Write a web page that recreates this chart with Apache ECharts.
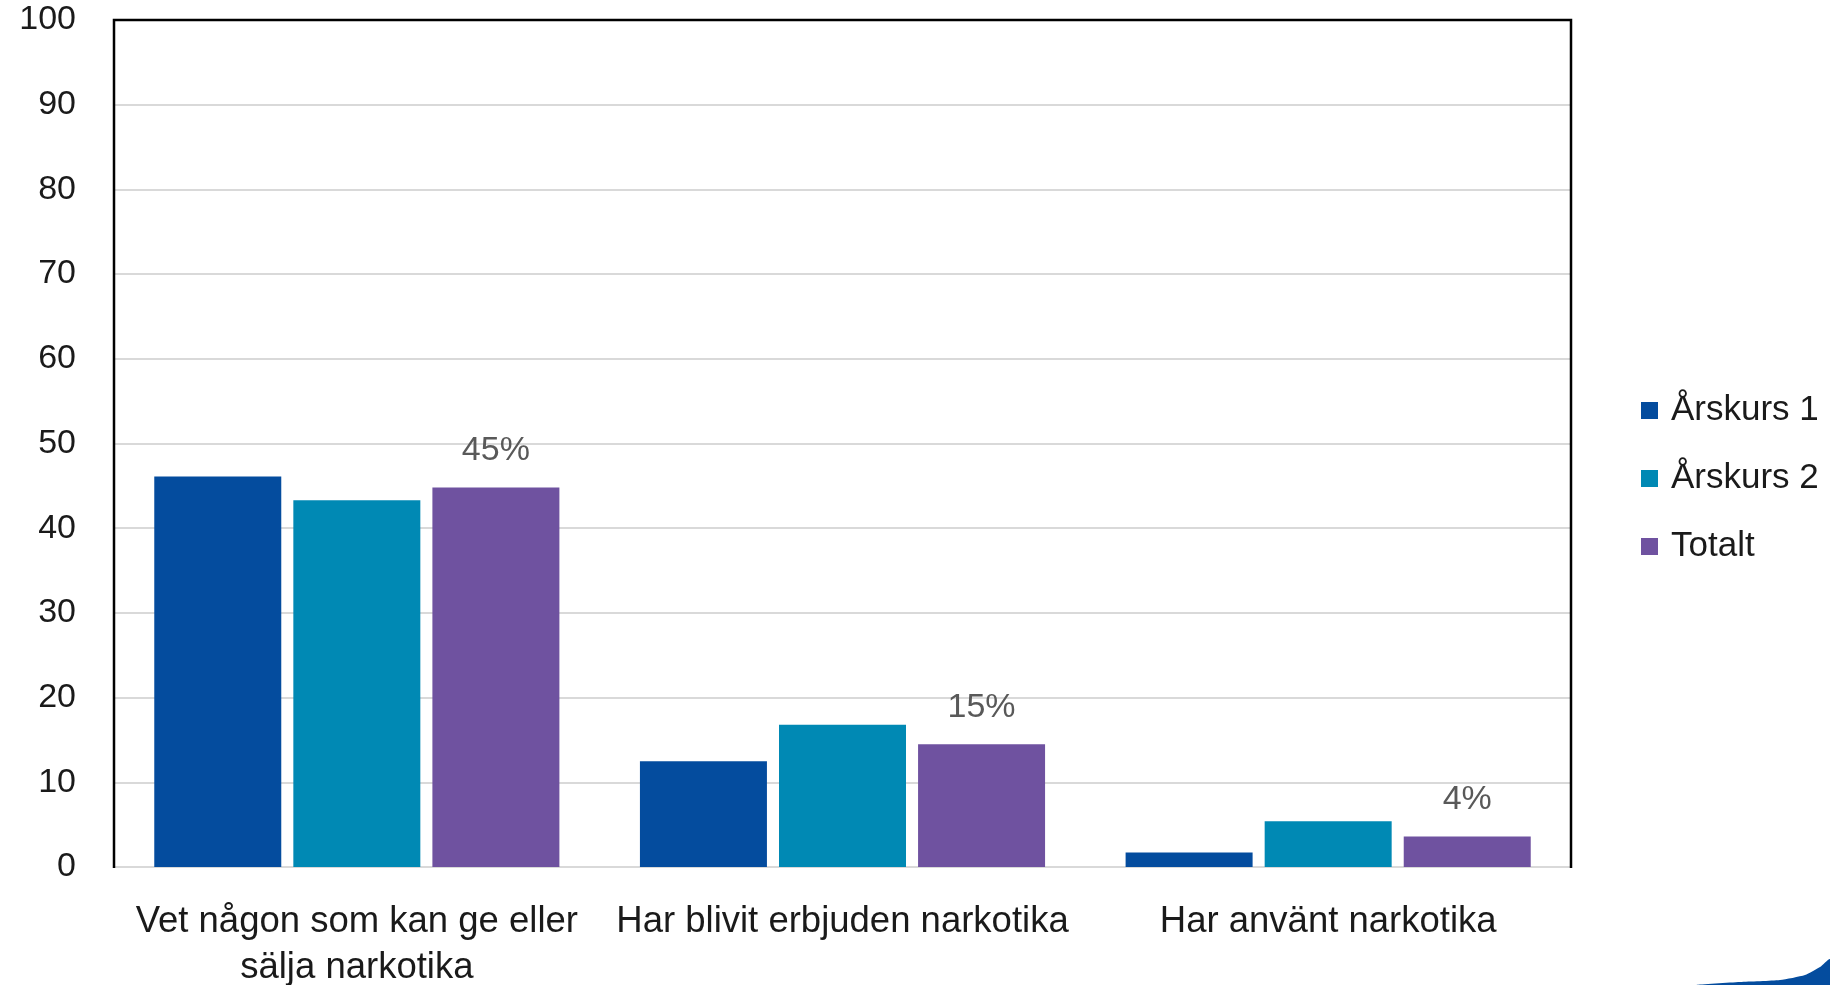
<!DOCTYPE html>
<html>
<head>
<meta charset="utf-8">
<script src="https://cdn.jsdelivr.net/npm/echarts@6/dist/echarts.min.js"></script>
<style>
html,body{margin:0;padding:0;background:#fff;}
#chart{width:1830px;height:985px;}
</style>
</head>
<body>
<div id="chart"></div>
<script>
const categories = ['Vet någon som kan ge eller\nsälja narkotika', 'Har blivit erbjuden narkotika', 'Har använt narkotika'];
const seriesNames = ['Årskurs 1', 'Årskurs 2', 'Totalt'];
const arskurs1 = [46.1, 12.5, 1.7];
const arskurs2 = [43.3, 16.8, 5.4];
const totalt = [44.8, 14.5, 3.6];
const yTicks = [0, 10, 20, 30, 40, 50, 60, 70, 80, 90, 100];
const colors = ['#044C9E', '#0089B4', '#6F52A0'];

const font = 'Liberation Sans, Arial, sans-serif';
const chart = echarts.init(document.getElementById('chart'), null, {renderer: 'canvas'});

function barSeries(name, data, color, showLabel) {
  return {
    name: name,
    type: 'bar',
    data: data,
    barWidth: 127,
    barGap: '9.5%',
    itemStyle: {color: color},
    label: {
      show: showLabel,
      position: 'top',
      distance: 20,
      fontFamily: font,
      fontSize: 34,
      color: '#595959',
      formatter: p => Math.round(p.value) + '%'
    },
    emphasis: {disabled: true}
  };
}

chart.setOption({
  animation: false,
  backgroundColor: '#ffffff',
  grid: {left: 114, right: 259, top: 20, bottom: 118, containLabel: false, outerBoundsMode: 'none', show: false},
  legend: {
    orient: 'vertical',
    left: 1636,
    top: 388,
    itemWidth: 17,
    itemHeight: 17,
    itemGap: 33,
    icon: 'rect',
    data: seriesNames,
    textStyle: {fontFamily: font, fontSize: 35, color: '#1a1a1a', lineHeight: 34, padding: [0, 0, 0, 8]}
  },
  xAxis: {
    type: 'category',
    data: categories,
    axisLine: {show: false},
    axisTick: {show: false},
    axisLabel: {fontFamily: font, fontSize: 36.5, color: '#1a1a1a', margin: 32, lineHeight: 46, interval: 0}
  },
  yAxis: {
    type: 'value',
    min: yTicks[0],
    max: yTicks[yTicks.length - 1],
    interval: yTicks[1] - yTicks[0],
    axisLine: {show: false},
    axisTick: {show: false},
    axisLabel: {fontFamily: font, fontSize: 34, color: '#1a1a1a', margin: 38, padding: [4, 0, 0, 0]},
    splitLine: {lineStyle: {color: '#d9d9d9', width: 2}}
  },
  graphic: [
    {
      type: 'polyline',
      z: 100,
      shape: {points: [[114, 868], [114, 20], [1571, 20], [1571, 868]]},
      style: {stroke: '#000000', lineWidth: 2.5, fill: null}
    },
    {
      type: 'polygon',
      z: 100,
      shape: {
        points: [[1697, 985], [1740, 982], [1780, 980], [1805, 975], [1820, 967], [1830, 959], [1830, 985]],
        smooth: 0.2
      },
      style: {fill: '#044C9E'}
    }
  ],
  series: [
    barSeries(seriesNames[0], arskurs1, colors[0], false),
    barSeries(seriesNames[1], arskurs2, colors[1], false),
    barSeries(seriesNames[2], totalt, colors[2], true)
  ]
});
</script>
</body>
</html>
